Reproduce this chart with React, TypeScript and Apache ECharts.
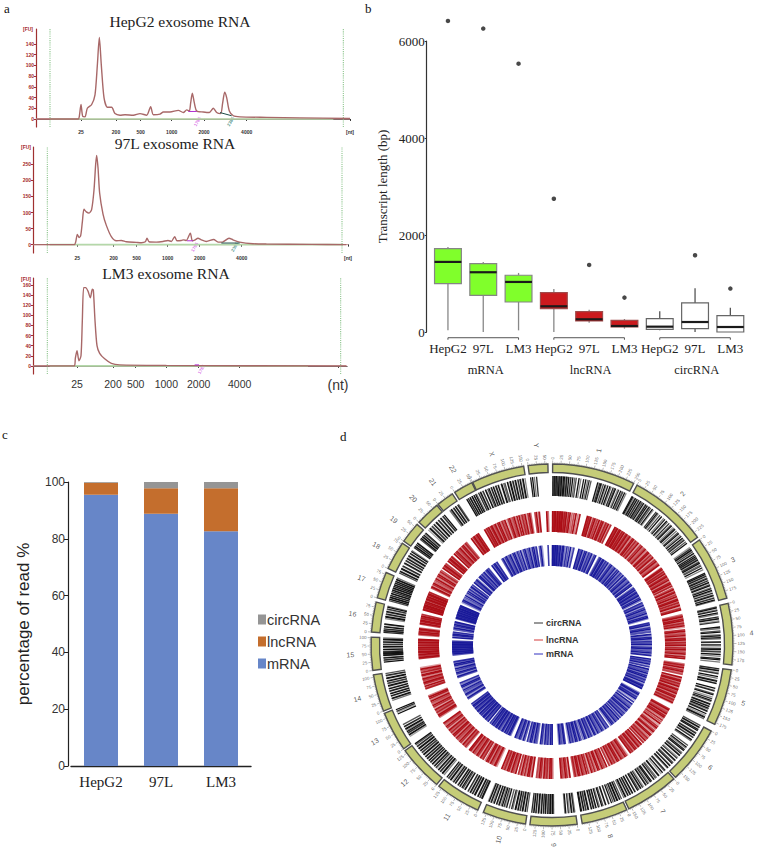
import React, { useEffect, useRef } from "react";
import * as echarts from "echarts";

const SERIF = '"Liberation Serif", "Times New Roman", serif';
const SANS = '"Liberation Sans", Arial, sans-serif';

// panel a: electropherograms, x in ladder-scale units, y in fluorescence units
const hepCurve = [[108,0],[235,0],[238,5],[243,27],[248,5],[255,4],[262,20],[275,27],[285,45],[292,100],[298,152],[304,100],[312,40],[322,22],[335,22],[345,10],[360,7],[375,8],[400,7],[420,10],[440,7],[452,23],[460,8],[480,9],[490,13],[510,13],[535,16],[550,12],[560,17],[568,15],[572,30],[577,48],[583,30],[590,15],[610,13],[628,12],[640,20],[650,12],[662,10],[668,30],[674,50],[680,40],[688,15],[700,6],[720,4],[800,3],[900,2],[1050,1]];
const l97Curve = [[100,0],[224,0],[228,8],[233,32],[238,22],[243,28],[248,70],[253,110],[260,102],[268,98],[276,110],[283,170],[288,250],[291,278],[295,240],[300,160],[310,95],[320,60],[335,25],[350,12],[365,13],[380,9],[410,7],[425,6],[437,9],[442,20],[448,9],[470,8],[490,10],[505,13],[515,10],[525,25],[532,12],[545,13],[552,15],[560,13],[572,36],[578,12],[585,14],[595,20],[605,15],[620,10],[642,16],[655,8],[668,8],[688,20],[700,15],[720,8],[760,3],[800,2],[935,1],[1040,0]];
const lm3Curve = [[100,0],[224,0],[227,15],[232,30],[238,10],[244,20],[248,90],[252,155],[258,155],[265,148],[272,135],[278,152],[281,150],[286,90],[292,40],[300,25],[315,14],[335,5],[360,2],[500,1],[1040,0]];
const ladderLabels = ["25", "200", "500", "1000", "2000", "4000"];

// panel b: box statistics [low, q1, median, q3, high]
const boxCategories = ["HepG2", "97L", "LM3", "HepG2", "97L", "LM3", "HepG2", "97L", "LM3"];
const boxStats = [[34,998,1445,1720,1755],[0,757,1232,1410,1445],[34,619,1032,1170,1218],[0,482,530,812,888],[190,227,262,420,461],[69,103,124,241,268],[34,55,110,275,427],[0,69,206,599,902],[0,0,103,337,502]];
const boxOutliers = [[0,6414],[1,6256],[2,5533],[3,2746],[4,1383],[5,709],[7,1583],[8,895]];
const boxFills = ["#80ff2b","#80ff2b","#80ff2b","#cb1a1e","#cb1a1e","#cb1a1e","#ffffff","#ffffff","#ffffff"];
const boxStrokes = ["#858585","#858585","#858585","#a04a4a","#a04a4a","#a04a4a","#666666","#666666","#666666"];

// panel c: read percentages
const cellLines = ["HepG2", "97L", "LM3"];
const mrnaShare = [95.5, 88.8, 82.7];
const lncShare = [4.2, 9.0, 15.1];
const circShare = [0.3, 2.2, 2.2];

// panel d: karyotype
const chrNames = ["1","2","3","4","5","6","7","8","9","10","11","12","13","14","15","16","17","18","19","20","21","22","X","Y"];
const chrStart = [0.2,28,54.5,76.7,97.9,118.4,137.7,155.6,172,188.4,204.2,219.6,235,248.6,261.9,274.1,285.1,295,305,312.7,321,327.5,334,352.4];
const chrEnd = [26.8,53.5,75,96.3,116,137,154.9,170.4,187,202.3,218.7,234.3,247.8,260.5,272.5,283.7,293.6,304.2,311.8,320.5,326.6,333.7,351,358.7];
const chrLen = [250,243,198,191,181,171,159,146,141,135,135,134,115,107,102,90,81,78,59,63,48,51,155,59];

// transcript positions (Mb) per chromosome
const circPositions = [
[1,4,6,9,12,14,17,21,23,26,29,31,35,38,41,45,47,52,57,59,65,71,76,85,91,100,107,113,118,124,146,149,153,157,159,165,171,174,180,187,191,198,203,206,213,217,224,229,232,238,243],
[3,6,10,15,17,22,27,29,35,38,42,47,53,56,61,67,69,74,81,85,96,101,105,112,119,128,133,141,145,152,159,163,170,175,179,186,193,197,204,209,216,221,225,232,238],
[2,7,12,14,19,25,27,33,38,41,44,49,51,56,59,63,69,73,80,87,100,104,109,111,117,120,125,127,133,135,141,144,151,155,161,164,170,176,179,185,187,193,196],
[3,6,12,15,23,27,36,41,43,49,53,70,75,83,87,95,99,105,109,119,121,129,133,141,145,151,153,161,167,175,179,186],
[2,7,9,15,19,29,35,43,45,51,53,70,77,79,89,93,101,107,113,117,125,127,133,135,141,145,151,153,161,167,173,175,180],
[1,7,9,15,19,27,29,35,37,43,45,53,57,74,81,85,91,95,103,107,113,115,123,127,135,137,145,149,157,159,167,170],
[2,5,13,19,27,29,37,41,47,49,57,61,67,71,77,79,87,91,97,99,105,109,117,119,127,129,135,137,143,145,151,153,158],
[1,7,9,15,17,23,25,31,37,45,47,57,59,67,71,79,83,91,93,99,101,107,109,117,119,125,127,133,135,141,144],
[2,5,11,13,19,23,31,34,70,74,75,80,82,87,89,95,97,102,103,109,111,117,119,125,127,133,135,140],
[1,7,9,15,17,23,25,31,33,39,41,49,53,61,70,75,79,85,89,95,97,103,105,113,117,123,125,131,134],
[2,4,9,11,17,19,27,29,35,37,43,45,51,53,63,65,71,75,81,83,89,91,99,101,107,111,117,119,125,127,133],
[1,7,9,15,17,23,25,31,35,41,43,49,51,57,59,65,67,73,75,81,83,89,91,97,99,105,107,113,115,121,123,129,133],
[20,25,26,31,33,37,40,45,47,53,55,62,98,103,107,112],
[20,25,27,33,35,41,43,49,51,57,59,65,67,73,75,81,83,89,91,97,99,105],
[22,27,29,35,37,43,44,47,48,51,52,55,57,63,65,71,73,79,81,87,89,95,97,101],
[2,6,7,12,13,19,21,27,29,46,51,53,59,61,67,69,75,77,83,86],
[1,6,7,12,13,18,19,25,26,31,32,37,38,43,44,49,50,55,56,61,62,67,68,73,74,79],
[2,7,9,15,17,23,25,33,35,41,43,49,51,57,59,65,67,73,76],
[2,6,7,12,13,18,19,32,36,37,42,43,48,49,54,57],
[2,7,9,15,17,23,25,31,33,39,41,47,49,55,57,62],
[15,19,21,27,29,35,37,43,46],
[18,22,23,28,29,34,35,40,41,46,49],
[2,7,9,15,17,25,27,33,37,43,45,51,53,59,61,67,69,77,79,85,89,97,99,105,107,113,115,121,123,129,131,137,139,145,147,153],
[3,9,15,22]
];
const lncPositions = [
[1,4,7,10,12,15,19,22,25,28,31,34,37,41,45,49,53,57,61,66,72,80,88,96,104,112,143,147,150,155,158,163,169,175,181,186,193,199,204,210,215,222,227,233,239,244],
[2,6,9,13,19,22,27,32,36,40,45,48,54,59,63,69,74,80,87,93,99,104,111,117,124,130,137,143,150,156,163,170,176,182,188,195,201,208,214,221,227,234,240],
[3,6,11,15,21,25,31,36,41,46,52,57,62,68,74,80,86,91,100,106,110,116,120,127,131,138,143,149,154,160,165,172,177,184,189,195],
[2,7,11,17,21,27,33,38,44,49,55,66,72,78,84,90,96,102,108,114,120,126,131,138,143,150,156,162,168,174,180,187],
[3,8,13,19,24,30,36,42,48,62,68,74,79,85,90,96,102,108,114,118,124,129,134,140,146,152,158,164,170,176,180],
[2,7,12,18,24,28,34,40,46,54,62,70,78,85,92,98,106,112,118,126,132,139,146,152,159,166,170],
[3,7,13,18,24,30,36,42,48,54,58,72,78,84,90,96,102,108,114,120,126,132,138,144,150,156],
[2,9,15,22,28,36,42,50,56,64,70,78,84,92,98,104,110,116,122,128,134,140,145],
[2,8,14,20,26,32,38,72,78,84,90,96,102,108,114,120,126,132,138],
[2,8,15,21,28,34,42,48,54,60,72,78,84,90,96,102,108,114,120,126,133],
[2,8,12,18,24,30,36,42,48,54,64,70,76,82,88,94,100,106,112,118,124,130],
[3,8,14,20,26,32,38,44,50,56,62,68,74,80,86,92,98,104,110,116,122,128,133],
[20,25,30,36,42,48,54,60,66,72,78,84,90,96,102,108,113],
[20,24,30,34,40,45,50,55,60,66,72,76,82,86,92,98,104],
[22,26,30,34,38,42,46,50,54,58,62,66,70,74,78,82,86,90,94,98,101],
[2,6,10,14,18,22,26,30,46,50,54,58,62,66,70,74,78,82,86],
[2,5,8,12,15,18,22,25,29,32,36,40,44,48,52,55,58,62,66,70,74,78],
[3,7,12,17,22,28,34,40,46,52,58,64,70,76],
[2,6,10,14,18,22,34,38,42,46,50,54,57],
[2,6,10,15,20,25,30,35,40,45,50,55,60],
[16,20,24,28,32,36,40,44,47],
[18,22,26,30,34,38,42,46,50],
[2,7,12,18,24,30,36,42,48,56,62,68,74,80,86,92,98,106,112,118,124,130,136,142,148,153],
[2,8,16,20,50,56]
];
const mrnaPositions = [
[1,5,8,12,16,20,24,28,33,38,44,50,56,62,70,80,90,100,110,118,146,152,158,165,172,180,188,196,204,212,220,228,236,244],
[3,8,14,20,26,32,38,45,52,60,68,76,84,92,100,108,116,124,134,142,150,158,168,176,184,192,200,208,216,224,232,240],
[2,8,14,20,26,32,38,44,50,56,62,70,78,86,100,108,116,124,132,140,148,156,164,172,180,188,195],
[4,10,16,24,32,40,48,56,70,78,86,94,102,110,118,126,134,142,150,158,166,174,182,189],
[3,10,16,24,32,40,48,62,70,78,86,94,102,110,118,126,134,142,150,158,164,170,176,180],
[2,8,14,20,28,34,40,48,60,74,82,90,98,106,114,122,130,138,146,154,162,169],
[3,9,16,24,32,40,48,56,72,80,88,96,104,112,120,128,136,144,152,158],
[3,10,18,26,34,42,50,60,72,80,88,96,104,112,120,128,136,144],
[3,9,16,24,32,38,74,82,90,98,106,114,122,130,138],
[3,10,18,26,34,42,50,58,74,82,90,98,106,114,122,130],
[3,9,15,21,27,33,39,45,51,57,65,72,78,84,90,96,102,108,114,120,126,132],
[3,9,15,21,27,33,39,45,51,57,63,69,75,81,87,93,99,105,111,117,123,129],
[20,26,34,42,48,56,64,72,80,88,96,104,112],
[20,26,32,40,46,54,60,68,76,84,92,100,105],
[22,28,32,36,40,44,48,52,56,60,64,68,72,76,80,84,88,92,96,100],
[2,8,14,20,26,32,46,54,60,66,72,78,84,88],
[2,6,10,14,18,22,26,30,34,38,42,46,50,54,58,62,66,70,74,78],
[3,9,16,24,32,40,48,56,64,72,77],
[2,7,12,18,32,38,44,50,56],
[2,8,14,20,28,34,40,46,52,58,62],
[16,22,28,34,40,46],
[18,24,30,36,42,48],
[2,10,18,26,34,42,50,58,68,76,84,92,100,108,116,124,132,140,148,154],
[2,10,18,50]
];
const tracks = [
  { positions: circPositions, r0: 149, r1: 169, color: "#101010", width: 1.3 },
  { positions: lncPositions, r0: 113, r1: 134, color: "#ac0e16", width: 1.7 },
  { positions: mrnaPositions, r0: 79, r1: 100, color: "#1a1a9a", width: 1.6 },
];
const stripeShades = [1, 0.55, 0.9, 0.7, 1, 0.4, 0.85, 1, 0.6, 0.75, 1, 0.5, 0.95];

const chrAngle = (i: number, mb: number) => chrStart[i] + (mb / chrLen[i]) * (chrEnd[i] - chrStart[i]);

const aPanels = [
  { curve: hepCurve, grid: { left: 36, top: 29, width: 314, height: 98 }, xMin: 108, xMax: 1050, yMin: -15, yMax: 168,
    yTicks: [0,20,40,60,80,100,120,140], ladder: [243,348,422,515,612,740,1050], unit: "[nt]", guides: [150,1030], green: [150,1000],
    tags: [[592,-5,"1765","#d050e0"],[692,-5,"2365","#2a7a70"]], purple: [[565,14],[590,14]], dark: [[660,12],[695,6]] },
  { curve: l97Curve, grid: { left: 33, top: 147, width: 315, height: 106 }, xMin: 100, xMax: 1045, yMin: -26, yMax: 304,
    yTicks: [0,50,100,150,200,250], ladder: [233,342,411,504,600,726,1045], unit: "[nt]", guides: [143,1027], green: [150,1030],
    tags: [[585,-8,"1765","#d050e0"],[705,-8,"2365","#2a7a70"]], purple: [[562,12],[580,12]], dark: [[665,5],[720,5]] },
  { curve: lm3Curve, grid: { left: 33, top: 278, width: 314, height: 96 }, xMin: 100, xMax: 1042, yMin: -16, yMax: 174,
    yTicks: [0,20,40,60,80,100,120,140,160], ladder: [232,340,408,500,597,720,1015], unit: "(nt)", guides: [143,1023], green: [150,925],
    tags: [[605,-7,"1765","#d050e0"]], purple: [[585,2],[598,2]], dark: null },
];

function buildOption() {
  const grid: any[] = [];
  const xAxis: any[] = [];
  const yAxis: any[] = [];
  const series: any[] = [];

  aPanels.forEach((p, i) => {
    grid.push(p.grid);
    const big = i === 2;
    const labels = [...ladderLabels, p.unit];
    xAxis.push({
      type: "value", gridIndex: i, min: p.xMin, max: p.xMax, splitLine: { show: false },
      axisLine: { lineStyle: { color: "#333", width: 1.2 } },
      axisTick: { customValues: p.ladder, length: 2, lineStyle: { color: "#333" } },
      axisLabel: {
        customValues: p.ladder, margin: big ? 4 : 2, color: "#333", fontFamily: SANS,
        fontSize: big ? 10.5 : 5, fontWeight: big ? "normal" : "bold",
        formatter: (v: number) => {
          const s = labels[p.ladder.indexOf(v)] ?? "";
          return big && s === p.unit ? `{u|${s}}` : s;
        },
        rich: { u: { fontSize: 14, fontFamily: SANS, color: "#333" } },
      },
    });
    yAxis.push({
      type: "value", gridIndex: i, min: p.yMin, max: p.yMax, splitLine: { show: false },
      axisLine: { lineStyle: { color: "#a03030", width: 1.2 } },
      axisTick: { customValues: p.yTicks, length: 2, lineStyle: { color: "#a03030" } },
      axisLabel: { customValues: p.yTicks, margin: 2, color: "#a52a2a", fontFamily: SANS, fontSize: 5, fontWeight: "bold" },
    });
    const base = { xAxisIndex: i, yAxisIndex: i, showSymbol: false, symbol: "none", silent: true };
    series.push({ ...base, type: "line", data: [[p.xMin, 0], [p.xMax, 0]], lineStyle: { color: "#eab4b4", width: 1 } });
    series.push({ ...base, type: "line", data: [[p.green[0], 0], [p.green[1], 0]], lineStyle: { color: "#b4d8aa", width: 1.6 } });
    p.guides.forEach((g) => {
      series.push({ ...base, type: "line", data: [[g, p.yMin], [g, p.yMax]], lineStyle: { color: "#8cc48c", width: 1.1, type: "dotted" } });
    });
    series.push({ ...base, type: "line", data: p.curve, smooth: 0.25, lineStyle: { color: "#a86868", width: 1.4 } });
    series.push({ ...base, type: "line", data: p.purple, lineStyle: { color: "#b030d0", width: 1 } });
    if (p.dark) series.push({ ...base, type: "line", data: p.dark, lineStyle: { color: "#1d4d48", width: 1 } });
    series.push({
      xAxisIndex: i, yAxisIndex: i, type: "scatter", symbolSize: 0, silent: true, clip: false,
      data: p.tags.map((t) => ({
        value: [t[0], t[1]],
        label: { show: true, position: "inside", formatter: String(t[2]), color: String(t[3]), fontSize: 4.5, fontWeight: "bold", fontFamily: SANS, rotate: 60 },
      })),
    });
  });

  // panel b
  grid.push({ left: 430.3, top: 41, width: 317.7, height: 291 });
  xAxis.push({
    type: "category", gridIndex: 3, data: boxCategories,
    axisLine: { show: false }, axisTick: { show: false },
    axisLabel: { interval: 0, margin: 10, color: "#222", fontFamily: SERIF, fontSize: 13 },
  });
  yAxis.push({
    type: "value", gridIndex: 3, min: 0, max: 6000, interval: 2000, offset: 3.6, splitLine: { show: false },
    axisLine: { show: true, lineStyle: { color: "#333", width: 1.2 } },
    axisTick: { show: true, length: 2, lineStyle: { color: "#333" } },
    axisLabel: { margin: 2, color: "#222", fontFamily: SERIF, fontSize: 13, formatter: (v: number) => String(v) },
    name: "Transcript length (bp)", nameLocation: "middle", nameGap: 38,
    nameTextStyle: { color: "#222", fontFamily: SERIF, fontSize: 13 },
  });
  series.push({
    type: "custom", xAxisIndex: 3, yAxisIndex: 3, silent: true, clip: false,
    data: boxStats.map((s, i) => [i, ...s]),
    encode: { x: 0, y: [1, 2, 3, 4, 5] },
    renderItem: (params: any, api: any) => {
      const i = api.value(0);
      const pt = (v: number) => api.coord([i, v]);
      const x = pt(0)[0];
      const w = api.size([1, 0])[0] * 0.76;
      const low = pt(api.value(1))[1], q1 = pt(api.value(2))[1], med = pt(api.value(3))[1], q3 = pt(api.value(4))[1], high = pt(api.value(5))[1];
      const stroke = boxStrokes[i];
      const wh = { stroke: i >= 6 ? "#555" : "#888", lineWidth: 1.3 };
      return {
        type: "group",
        children: [
          { type: "line", shape: { x1: x, y1: low, x2: x, y2: q1 }, style: wh },
          { type: "line", shape: { x1: x, y1: q3, x2: x, y2: high }, style: wh },
          { type: "rect", shape: { x: x - w / 2, y: q3, width: w, height: q1 - q3 }, style: { fill: boxFills[i], stroke, lineWidth: 1.2 } },
          { type: "line", shape: { x1: x - w / 2, y1: med, x2: x + w / 2, y2: med }, style: { stroke: "#1a1a1a", lineWidth: 2.2 } },
        ],
      };
    },
  });
  series.push({
    type: "scatter", xAxisIndex: 3, yAxisIndex: 3, clip: false, silent: true, symbolSize: 4.5,
    itemStyle: { color: "#1a1a1a" }, data: boxOutliers,
  });
  [[0, 2], [3, 5], [6, 8]].forEach(([a, b]) => {
    series.push({
      type: "line", xAxisIndex: 3, yAxisIndex: 3, clip: false, silent: true, symbol: "none",
      lineStyle: { color: "#555", width: 1 },
      data: [[a, -160], [a, -118], [b, -118], [b, -160]],
    });
  });

  // panel c
  grid.push({ left: 71, top: 482, width: 180, height: 284 });
  xAxis.push({
    type: "category", gridIndex: 4, data: cellLines,
    axisLine: { lineStyle: { color: "#222", width: 1.4 } }, axisTick: { show: false },
    axisLabel: { margin: 8, color: "#222", fontFamily: SERIF, fontSize: 15 },
  });
  yAxis.push({
    type: "value", gridIndex: 4, min: 0, max: 100, interval: 20, offset: 3, splitLine: { show: false },
    axisLine: { show: true, lineStyle: { color: "#222", width: 1.2 } },
    axisTick: { show: true, length: 4, lineStyle: { color: "#222" } },
    axisLabel: { margin: 3, color: "#333", fontFamily: SANS, fontSize: 12 },
    name: "percentage of read %", nameLocation: "middle", nameGap: 36,
    nameTextStyle: { color: "#222", fontFamily: SANS, fontSize: 17 },
  });
  const barBase = { type: "bar", xAxisIndex: 4, yAxisIndex: 4, stack: "reads", barWidth: 34, silent: true };
  series.push({ ...barBase, name: "mRNA", data: mrnaShare, itemStyle: { color: "#6786c8" } });
  series.push({ ...barBase, name: "lncRNA", data: lncShare, itemStyle: { color: "#c46e2d" } });
  series.push({ ...barBase, name: "circRNA", data: circShare, itemStyle: { color: "#959595" } });

  // panel d
  series.push({
    type: "custom", coordinateSystem: "polar", polarIndex: 0, silent: true,
    colorBy: "series", itemStyle: { color: "#666666" },
    data: chrNames.map((_, i) => [181, chrStart[i], chrEnd[i]]),
    encode: { radius: 0, angle: 1 },
    renderItem: (params: any, api: any) => {
      const i = params.dataIndex;
      const a0 = api.value(1), a1 = api.value(2);
      const centre = params.coordSys;
      const rad = (d: number) => ((d - 90) * Math.PI) / 180;
      const children: any[] = [{
        type: "sector",
        shape: { cx: centre.cx, cy: centre.cy, r: 181, r0: 172.5, startAngle: rad(a0), endAngle: rad(a1), clockwise: true },
        style: { fill: "#c5cc78", stroke: "#4f4f4f", lineWidth: 1.4 },
      }];
      const radial = (ang: number, r: number, text: string, size: number, fill: string) => {
        const p = api.coord([r, ang]);
        const right = ang <= 180;
        return {
          type: "text", x: p[0], y: p[1],
          rotation: (((right ? 90 : 270) - ang) * Math.PI) / 180,
          style: { text, fontSize: size, fontFamily: SANS, fill, opacity: 0.98, align: right ? "left" : "right", verticalAlign: "middle" },
        };
      };
      for (let mb = 0; mb <= chrLen[i]; mb += 5) {
        const ang = chrAngle(i, mb);
        const major = mb % 25 === 0;
        const p0 = api.coord([181, ang]), p1 = api.coord([major ? 184.5 : 182.5, ang]);
        children.push({ type: "line", shape: { x1: p0[0], y1: p0[1], x2: p1[0], y2: p1[1] }, style: { stroke: "#777", lineWidth: 0.5 } });
        if (major) children.push(radial(ang, 185.5, String(mb), 4.5, "#666666"));
      }
      children.push(radial((a0 + a1) / 2, 198, chrNames[i], 7, "#555555"));
      return { type: "group", children };
    },
  });
  tracks.forEach((t) => {
    const data: number[][] = [];
    t.positions.forEach((list, i) => list.forEach((mb) => data.push([t.r0, chrAngle(i, mb), t.r1])));
    series.push({
      type: "custom", coordinateSystem: "polar", polarIndex: 0, silent: true, data,
      encode: { radius: 0, angle: 1 },
      renderItem: (params: any, api: any) => {
        const ang = api.value(1);
        const p0 = api.coord([api.value(0), ang]), p1 = api.coord([api.value(2), ang]);
        return {
          type: "line", shape: { x1: p0[0], y1: p0[1], x2: p1[0], y2: p1[1] },
          style: { stroke: t.color, lineWidth: t.width, opacity: stripeShades[params.dataIndex % stripeShades.length] },
        };
      },
    });
  });

  const label = (x: number, y: number, text: string, font: string, fill = "#222", align = "center") => ({
    type: "text", x, y, silent: true, style: { text, font, fill, align, verticalAlign: "middle" },
  });
  const serifFont = (s: number) => `${s}px ${SERIF}`;
  const graphic: any[] = [
    label(4, 8, "a", serifFont(13), "#111", "left"),
    label(365, 8, "b", serifFont(13), "#111", "left"),
    label(2, 434, "c", serifFont(13), "#111", "left"),
    label(340, 436, "d", serifFont(13), "#111", "left"),
    label(180, 21, "HepG2 exosome RNA", serifFont(15.6)),
    label(175, 143, "97L exosome RNA", serifFont(15.6)),
    label(166, 273, "LM3 exosome RNA", serifFont(15.6)),
    label(33, 29, "[FU]", `bold 5px ${SANS}`, "#a52a2a", "right"),
    label(31, 147, "[FU]", `bold 5px ${SANS}`, "#a52a2a", "right"),
    label(31, 279, "[FU]", `bold 5px ${SANS}`, "#a52a2a", "right"),
    label(485.7, 370, "mRNA", serifFont(12.5)),
    label(590.7, 370, "lncRNA", serifFont(12.5)),
    label(696.7, 370, "circRNA", serifFont(12.5)),
    { type: "line", silent: true, shape: { x1: 534, y1: 623, x2: 543, y2: 623 }, style: { stroke: "#333", lineWidth: 1 } },
    { type: "line", silent: true, shape: { x1: 534, y1: 640, x2: 543, y2: 640 }, style: { stroke: "#d43a3a", lineWidth: 1 } },
    { type: "line", silent: true, shape: { x1: 534, y1: 654, x2: 543, y2: 654 }, style: { stroke: "#3030c0", lineWidth: 1 } },
    label(546, 623, "circRNA", `bold 9px ${SANS}`, "#333", "left"),
    label(546, 640, "lncRNA", `bold 9px ${SANS}`, "#333", "left"),
    label(546, 654, "mRNA", `bold 9px ${SANS}`, "#333", "left"),
  ];

  return {
    animation: false,
    backgroundColor: "#ffffff",
    grid, xAxis, yAxis, series, graphic,
    polar: { center: [552, 645], radius: 210 },
    radiusAxis: { min: 0, max: 210, show: false },
    angleAxis: { min: 0, max: 360, startAngle: 90, clockwise: true, show: false },
    legend: {
      data: ["circRNA", "lncRNA", "mRNA"], orient: "vertical", left: 253, top: 607, itemWidth: 8, itemHeight: 10, itemGap: 7,
      icon: "rect", textStyle: { color: "#333", fontFamily: SANS, fontSize: 14.5, padding: [0, 0, 0, -4] },
    },
  };
}

export default function App() {
  const ref = useRef<HTMLDivElement>(null);
  useEffect(() => {
    const chart = echarts.init(ref.current!, undefined, { renderer: "svg" });
    chart.setOption(buildOption() as any);
    return () => chart.dispose();
  }, []);
  return <div ref={ref} style={{ position: "fixed", left: 0, top: 0, width: 758, height: 850 }} />;
}
